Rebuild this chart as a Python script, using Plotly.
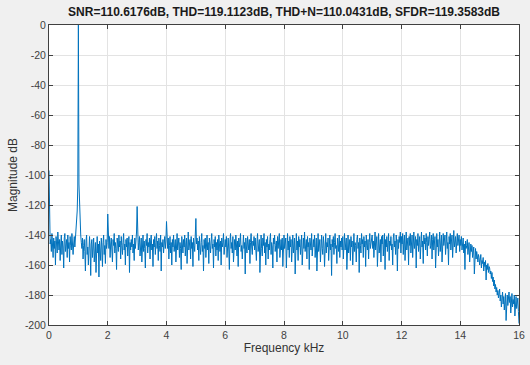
import numpy as np
import plotly.graph_objects as go

title_text = "SNR=110.6176dB, THD=119.1123dB, THD+N=110.0431dB, SFDR=119.3583dB"
x_label = "Frequency kHz"
y_label = "Magnitude dB"

x_ticks = [0, 2, 4, 6, 8, 10, 12, 14, 16]
y_ticks = [0, -20, -40, -60, -80, -100, -120, -140, -160, -180, -200]
y_tick_labels = ["0", "-20", "-40", "-60", "-80", "-100", "-120", "-140", "-160", "-180", "-200"]

bin_khz = 0.02  # FFT bin spacing

# magnitude (dB); one row per kHz, starting at k kHz
mag_rows = [
    [-97, -140, -146, -143, -151, -139, -147, -155, -142, -149, -144, -160, -141, -148, -152, -138, -145, -150, -143, -157, -146, -140, -153, -144, -148, -162, -142, -139, -151, -146, -143, -155, -140, -149, -145, -158, -141, -147, -150, -139, -144, -153, -146, -141, -148, -143, -138, -132, -124, -108],
    [0, -106, -122, -133, -140, -145, -149, -142, -156, -147, -143, -151, -164, -144, -140, -153, -148, -160, -145, -141, -150, -167, -146, -143, -155, -149, -142, -158, -151, -145, -165, -147, -141, -152, -146, -168, -144, -150, -157, -142, -148, -161, -145, -140, -153, -147, -159, -143, -149, -145],
    [-126, -144, -149, -141, -155, -146, -142, -150, -158, -143, -147, -139, -152, -145, -149, -163, -142, -146, -151, -140, -148, -144, -156, -141, -147, -153, -145, -139, -150, -146, -160, -143, -148, -142, -154, -147, -141, -165, -145, -150, -143, -148, -140, -152, -146, -157, -142, -149, -144, -138],
    [-121, -143, -150, -145, -141, -154, -147, -142, -158, -146, -140, -151, -144, -149, -162, -143, -147, -139, -152, -145, -148, -142, -156, -144, -140, -150, -146, -161, -143, -148, -141, -153, -145, -139, -149, -144, -157, -142, -147, -151, -140, -164, -145, -148, -143, -152, -146, -141, -149, -144],
    [-131, -145, -149, -142, -156, -147, -141, -152, -145, -160, -143, -148, -140, -151, -146, -143, -158, -144, -139, -150, -147, -142, -155, -145, -149, -163, -141, -146, -152, -143, -148, -140, -154, -146, -142, -159, -144, -138, -150, -147, -143, -156, -141, -149, -145, -161, -142, -147, -151, -144],
    [-129, -146, -142, -150, -144, -157, -141, -148, -153, -145, -139, -151, -147, -164, -143, -149, -142, -155, -146, -140, -150, -145, -159, -142, -147, -152, -144, -139, -149, -146, -162, -143, -148, -141, -154, -145, -150, -143, -157, -140, -147, -151, -144, -160, -142, -148, -145, -139, -153, -146],
    [-143, -148, -141, -155, -146, -142, -150, -163, -144, -139, -149, -145, -152, -141, -158, -147, -143, -150, -140, -146, -154, -144, -161, -142, -148, -145, -139, -151, -147, -156, -143, -140, -149, -145, -166, -142, -148, -152, -141, -146, -150, -143, -159, -145, -139, -148, -153, -144, -147, -141],
    [-150, -142, -147, -157, -144, -139, -151, -146, -143, -165, -145, -140, -149, -154, -142, -147, -139, -152, -145, -160, -143, -148, -141, -156, -146, -150, -143, -139, -153, -145, -148, -162, -142, -146, -140, -151, -147, -144, -158, -141, -149, -145, -139, -155, -146, -143, -150, -142, -161, -145],
    [-140, -149, -145, -142, -162, -147, -139, -150, -144, -155, -141, -148, -143, -158, -146, -140, -152, -145, -142, -166, -147, -139, -150, -144, -157, -141, -148, -143, -153, -146, -140, -160, -145, -142, -149, -138, -151, -147, -143, -156, -141, -148, -145, -163, -142, -146, -150, -139, -154, -145],
    [-143, -148, -140, -155, -146, -142, -164, -145, -139, -151, -147, -143, -158, -144, -140, -149, -153, -141, -146, -161, -143, -139, -152, -145, -148, -142, -157, -144, -140, -150, -146, -167, -143, -148, -141, -153, -145, -139, -149, -147, -159, -142, -146, -151, -140, -155, -144, -148, -142, -150],
    [-141, -156, -144, -139, -150, -147, -142, -163, -145, -140, -152, -146, -143, -157, -141, -148, -144, -160, -142, -139, -151, -145, -147, -158, -143, -140, -149, -145, -165, -142, -147, -152, -139, -146, -143, -155, -141, -148, -144, -161, -140, -147, -150, -143, -156, -145, -139, -149, -146, -142],
    [-140, -149, -144, -155, -142, -138, -150, -146, -141, -161, -144, -139, -152, -147, -143, -158, -141, -146, -140, -154, -145, -139, -163, -143, -148, -141, -151, -145, -139, -157, -144, -147, -141, -150, -146, -160, -142, -139, -148, -144, -153, -140, -146, -164, -143, -149, -141, -145, -138, -152],
    [-141, -146, -139, -153, -144, -140, -157, -143, -138, -150, -145, -142, -160, -141, -147, -139, -152, -144, -140, -155, -142, -138, -149, -145, -141, -162, -143, -147, -139, -151, -145, -141, -156, -143, -138, -148, -144, -159, -140, -146, -142, -150, -139, -145, -154, -141, -147, -143, -138, -149],
    [-147, -140, -156, -143, -139, -150, -145, -141, -162, -144, -139, -148, -143, -154, -141, -138, -151, -145, -140, -158, -142, -139, -147, -144, -140, -153, -142, -138, -149, -145, -160, -141, -146, -139, -150, -144, -140, -155, -142, -137, -148, -145, -141, -152, -143, -139, -147, -144, -140, -151],
    [-143, -147, -141, -150, -145, -142, -152, -146, -163, -144, -149, -147, -143, -153, -148, -145, -158, -149, -146, -151, -147, -155, -150, -148, -166, -152, -149, -156, -151, -154, -158, -153, -155, -160, -156, -153, -162, -157, -159, -155, -164, -158, -161, -157, -170, -160, -163, -159, -165, -161],
    [-162, -166, -164, -169, -165, -171, -168, -174, -170, -176, -173, -178, -175, -180, -177, -182, -179, -176, -184, -180, -188, -182, -178, -186, -181, -190, -184, -179, -197, -183, -180, -187, -182, -178, -185, -181, -192, -184, -179, -188, -183, -186, -180, -194, -185, -181, -189, -184, -182, -191],
    [-199],
]

freq_khz = []
magnitude_db = []
for k, row in enumerate(mag_rows):
    for i, v in enumerate(row):
        freq_khz.append(k + i * bin_khz)
        magnitude_db.append(v)

fig = go.Figure()
fig.add_trace(go.Scatter(
    x=freq_khz, y=magnitude_db, mode="lines",
    line=dict(color="#0072BD", width=1),
    showlegend=False,
))

axis_common = dict(
    showline=True, mirror="ticks", linecolor="#404040", linewidth=1,
    ticks="inside", ticklen=4, tickcolor="#404040",
    showgrid=True, gridcolor="#e3e3e3", gridwidth=1,
    zeroline=False,
    tickfont=dict(family="Liberation Sans, Arial", size=10.5, color="#404040"),
)

fig.update_layout(
    width=530, height=365,
    paper_bgcolor="#f0f0f0", plot_bgcolor="#ffffff",
    margin=dict(l=49, r=11, t=25, b=40, autoexpand=False),
    title=dict(
        text="<b>" + title_text + "</b>",
        x=0.536, xanchor="center", y=0.967, yanchor="middle",
        font=dict(family="Liberation Sans, Arial", size=12, color="#1a1a1a"),
    ),
    xaxis=dict(
        range=[0, 16], tickvals=x_ticks,
        title=dict(text=x_label, standoff=4,
                   font=dict(family="Liberation Sans, Arial", size=12, color="#333333")),
        **axis_common,
    ),
    yaxis=dict(
        range=[-200, 0], tickvals=y_ticks, ticktext=y_tick_labels,
        title=dict(text=y_label, standoff=4,
                   font=dict(family="Liberation Sans, Arial", size=12, color="#333333")),
        **axis_common,
    ),
)

fig.write_html(
    "out.html",
    config={"displayModeBar": False},
    post_script="document.body.style.margin='0';document.body.style.background='#f0f0f0';",
)
